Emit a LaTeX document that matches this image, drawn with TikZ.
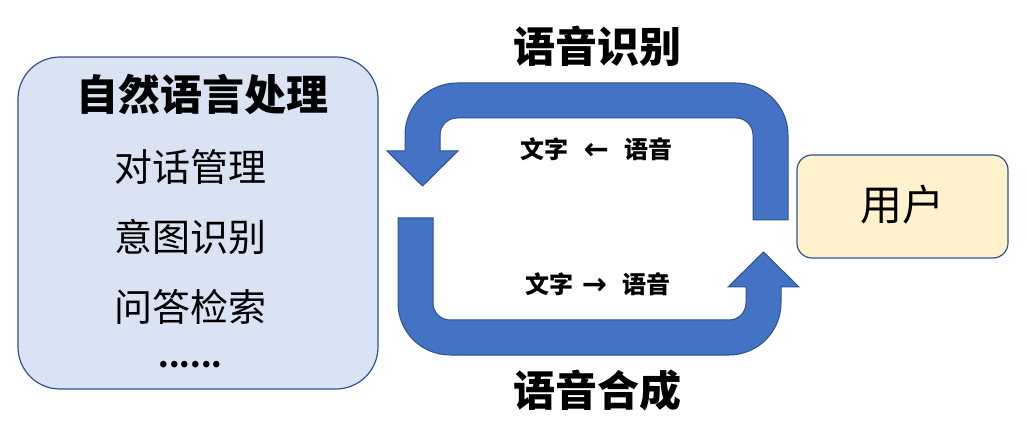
\documentclass[tikz,border=0pt]{standalone}
\usepackage{fontspec}
\newfontfamily\cjk{Noto Sans CJK SC}
\newfontfamily\dejavu{DejaVu Sans}
\definecolor{arrowblue}{HTML}{4472C4}
\definecolor{edgeblue}{HTML}{2F528F}
\definecolor{boxblue}{HTML}{DAE3F3}
\definecolor{boxyellow}{HTML}{FFF2CC}
\newcommand{\bigarr}[1]{{\dejavu\bfseries\fontsize{30pt}{30pt}\selectfont\raisebox{-1pt}{#1}}}
\tikzset{
  bigarrow/.style={fill=arrowblue, draw=edgeblue, line width=1pt, line join=miter},
  nlpbox/.style={draw=edgeblue, fill=boxblue, line width=1.2pt, rounded corners=42pt, minimum width=360pt, minimum height=332pt, inner sep=0pt},
  userbox/.style={draw=edgeblue, fill=boxyellow, line width=1.2pt, rounded corners=15pt, minimum width=211pt, minimum height=103pt, inner sep=0pt},
  bigtitle/.style={font=\cjk\bfseries\fontsize{42pt}{44pt}\selectfont, anchor=base, inner sep=0pt},
  item/.style={font=\cjk\fontsize{38pt}{40pt}\selectfont, anchor=base, inner sep=0pt},
  small/.style={font=\cjk\bfseries\fontsize{24pt}{26pt}\selectfont, anchor=base, inner sep=0pt},
}
\begin{document}
\begin{tikzpicture}[x=1pt, y=-1pt]
\useasboundingbox (0,0) rectangle (1028,430);
% left box
\node[nlpbox] (nlp) at (198,223) {};
\node[bigtitle] (title) at (202.5,111) {自然语言处理};
\node[item] (i1) at (190,181.5) {对话管理};
\node[item] (i2) at (190,251.5) {意图识别};
\node[item] (i3) at (190,321.5) {问答检索};
\node[item, font=\cjk\bfseries\fontsize{30pt}{32pt}\selectfont] (dots) at (190.5,367) {......};
% user box
\node[userbox] (user) at (902.5,206.5) {};
\node[font=\cjk\fontsize{42pt}{44pt}\selectfont, anchor=base, inner sep=0pt] (usertext) at (902,221) {用户};
% top arrow (speech recognition)
\path[bigarrow] (753,220) -- (788,220) -- (788,135)
  .. controls (788,106.28) and (764.72,83) .. (736,83)
  -- (457,83) .. controls (428.28,83) and (405,106.28) .. (405,135)
  -- (405,151) -- (387,151) -- (422.5,186) -- (458,151) -- (440,151) -- (440,135)
  .. controls (440,125.61) and (447.61,118) .. (457,118)
  -- (736,118) .. controls (745.39,118) and (753,125.61) .. (753,135) -- cycle;
% bottom arrow (speech synthesis)
\path[bigarrow] (398,218) -- (433,218) -- (433,303)
  .. controls (433,312.39) and (440.61,320) .. (450,320)
  -- (729,320) .. controls (738.39,320) and (746,312.39) .. (746,303)
  -- (746,287) -- (728,287) -- (763.5,252) -- (799,287) -- (781,287) -- (781,303)
  .. controls (781,331.72) and (757.72,355) .. (729,355)
  -- (450,355) .. controls (421.28,355) and (398,331.72) .. (398,303) -- cycle;
% labels
\node[bigtitle] (asr) at (597,63) {语音识别};
\node[bigtitle] (tts) at (597,406) {语音合成};
\node[small] (asrsub) at (596.5,159) {文字\hspace{15pt}\bigarr{←}\hspace{15pt}语音};
\node[small] (ttssub) at (598,294) {文字\hspace{8pt}\bigarr{→}\hspace{15pt}语音};
\end{tikzpicture}
\end{document}
